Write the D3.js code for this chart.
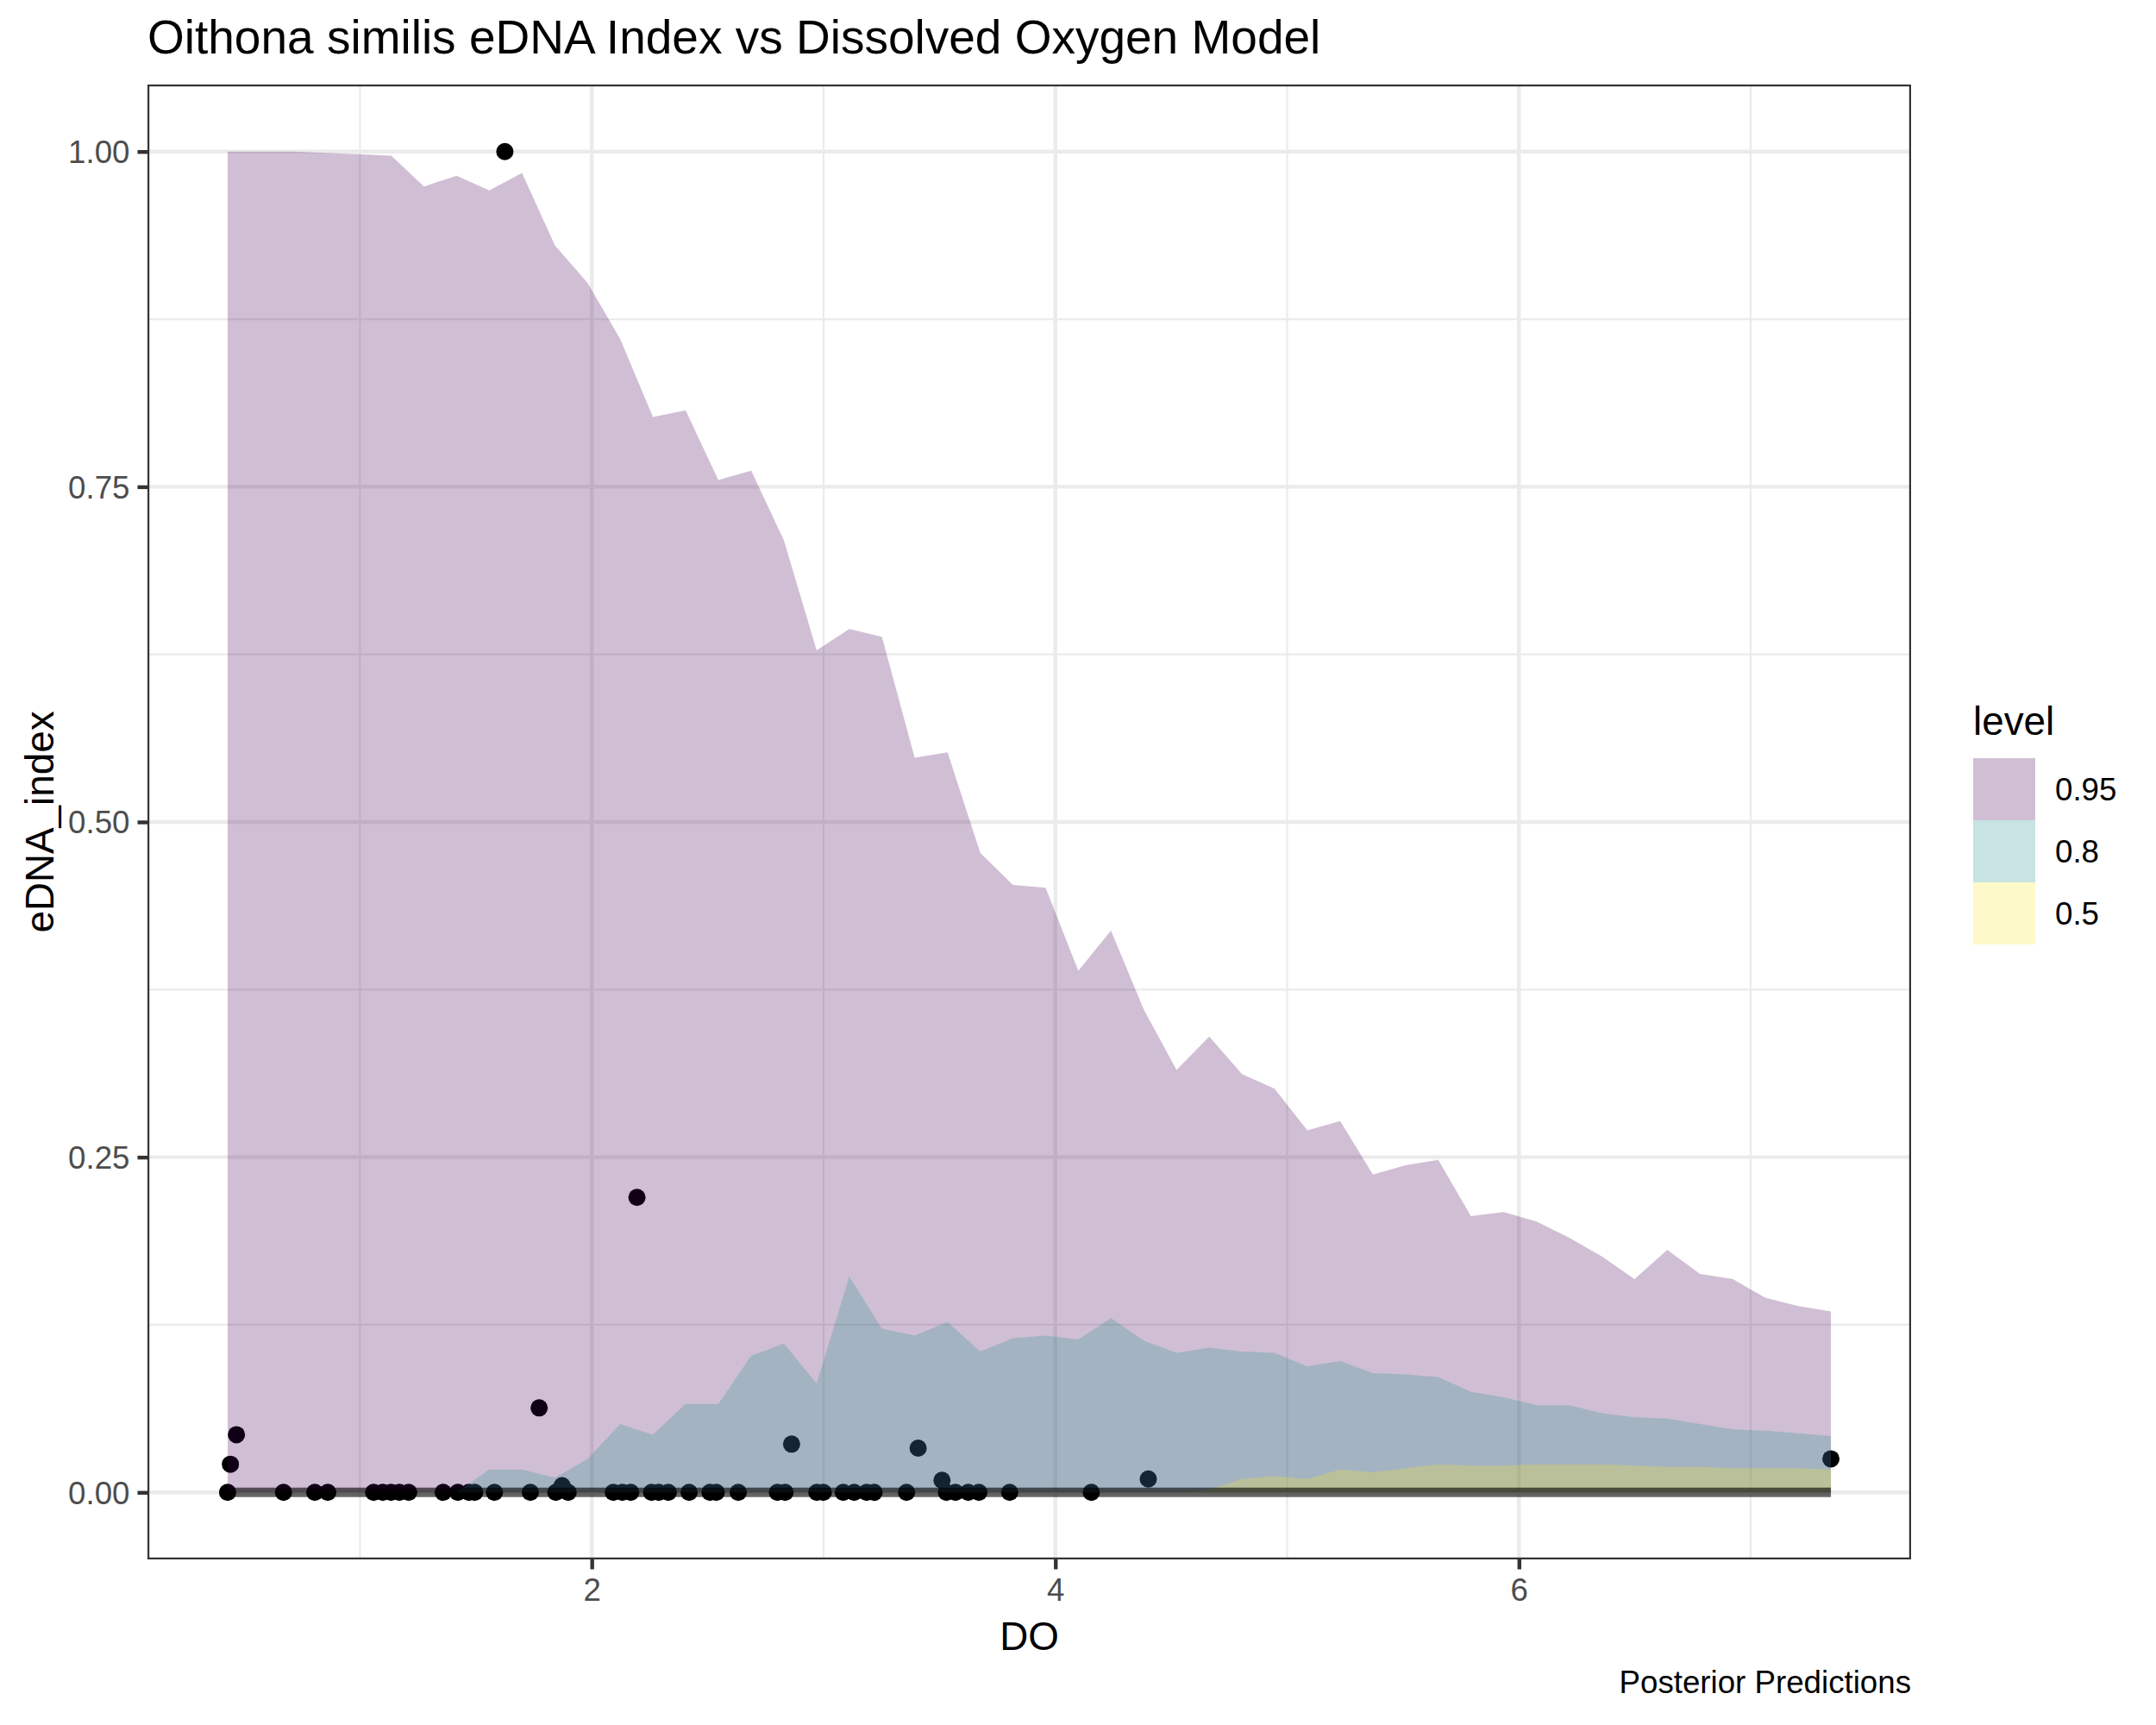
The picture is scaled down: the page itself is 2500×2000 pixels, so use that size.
<!DOCTYPE html>
<html>
<head>
<meta charset="utf-8">
<script src="https://cdn.jsdelivr.net/npm/d3@7"></script>
<style>
  html, body { margin: 0; padding: 0; background: #fff; }
  svg { display: block; }
  text { font-family: "Liberation Sans", Arial, Helvetica, sans-serif; }
</style>
</head>
<body>
<script>
// ---------- data ----------
const title = "Oithona similis eDNA Index vs Dissolved Oxygen Model";
const xTitle = "DO";
const yTitle = "eDNA_index";
const caption = "Posterior Predictions";
const legendTitle = "level";

// prediction grid (DO)
const gridDO = [0.429,0.570,0.711,0.852,0.994,1.135,1.276,1.417,1.558,1.699,
  1.841,1.982,2.123,2.264,2.405,2.546,2.688,2.829,2.970,3.111,
  3.252,3.393,3.535,3.676,3.817,3.958,4.099,4.240,4.382,4.523,
  4.664,4.805,4.946,5.087,5.229,5.370,5.511,5.652,5.793,5.934,
  6.076,6.217,6.358,6.499,6.640,6.781,6.923,7.064,7.205,7.346];

const upper95 = [1.000,1.000,1.000,0.999,0.998,0.997,0.974,0.982,0.971,0.984,
  0.930,0.902,0.860,0.802,0.807,0.755,0.762,0.710,0.628,0.644,
  0.638,0.548,0.552,0.477,0.453,0.451,0.389,0.419,0.360,0.315,
  0.340,0.312,0.301,0.270,0.277,0.237,0.244,0.248,0.206,0.209,
  0.202,0.190,0.176,0.159,0.181,0.163,0.159,0.145,0.139,0.135];

const upper80 = [0,0,0,0,0,0,0,0,0.017,0.017,
  0.011,0.025,0.051,0.043,0.066,0.066,0.102,0.111,0.081,0.161,
  0.122,0.117,0.127,0.105,0.115,0.117,0.114,0.130,0.113,0.104,
  0.108,0.105,0.104,0.094,0.098,0.089,0.088,0.086,0.075,0.071,
  0.065,0.065,0.059,0.056,0.055,0.051,0.047,0.046,0.044,0.042];

const upper50 = [0,0,0,0,0,0,0,0,0,0,
  0,0,0,0,0,0,0,0,0,0,
  0,0,0,0,0,0,0,0,0,0,
  0.002,0.010,0.012,0.010,0.017,0.015,0.018,0.021,0.020,0.020,
  0.021,0.021,0.021,0.020,0.019,0.019,0.018,0.018,0.018,0.017];

const lowerBound = [0,0,0,0,0,0,0,0,0,0,
  0,0,0,0,0,0,0,0,0,0,
  0,0,0,0,0,0,0,0,0,0,
  0,0,0,0,0,0,0,0,0,0,
  0,0,0,0,0,0,0,0,0,0];

const medianPred = [0,0,0,0,0,0,0,0,0,0,
  0,0,0,0,0,0,0,0,0,0,
  0,0,0,0,0,0,0,0,0,0,
  0,0,0,0,0,0,0,0,0,0,
  0,0,0,0,0,0,0,0,0,0];

// observations
const obsDO = [0.429,0.441,0.467,0.670,0.805,0.861,1.059,1.098,1.134,1.170,1.210,
  1.359,1.422,1.470,1.495,1.580,1.625,1.735,1.773,1.845,1.872,1.898,
  2.093,2.132,2.168,2.195,2.258,2.289,2.330,2.420,2.510,2.537,2.632,
  2.801,2.834,2.862,2.971,2.999,3.085,3.132,3.186,3.218,3.358,3.408,
  3.511,3.530,3.569,3.624,3.670,3.803,4.155,4.401,7.346];
const obsIndex = [0,0.021,0.043,0,0,0,0,0,0,0,0,
  0,0,0,0,0,1.000,0,0.063,0,0.005,0,
  0,0,0,0.220,0,0,0,0,0,0,0,
  0,0,0.036,0,0,0,0,0,0,0,0.033,
  0.009,0,0,0,0,0,0,0.010,0.025];

const levels = ["0.95","0.8","0.5"];
const levelColors = ["#440154","#21908C","#FDE725"];
const yTicks = [0,0.25,0.5,0.75,1];
const yTickLabels = ["0.00","0.25","0.50","0.75","1.00"];
const yMinor = [0.125,0.375,0.625,0.875];
const xTicks = [2,4,6];
const xTickLabels = ["2","4","6"];
const xMinor = [1,3,5,7];

// ---------- layout ----------
const W = 2500, H = 2000;
const P = {left: 171, right: 2216, top: 98, bottom: 1808};
const svg = d3.select("body").append("svg").attr("width", W).attr("height", H);

const xExt = d3.extent(obsDO);
const xPad = (xExt[1] - xExt[0]) * 0.05;
const x = d3.scaleLinear().domain([xExt[0] - xPad, xExt[1] + xPad]).range([P.left, P.right]);
const y = d3.scaleLinear().domain([-0.05, 1.05]).range([P.bottom, P.top]);

const fs = {title: 55, axisTitle: 45.8, axisText: 36.7};

// panel background
svg.append("rect").attr("x", P.left).attr("y", P.top)
  .attr("width", P.right - P.left).attr("height", P.bottom - P.top).attr("fill", "#fff");

const clip = svg.append("clipPath").attr("id", "pclip").append("rect")
  .attr("x", P.left).attr("y", P.top).attr("width", P.right - P.left).attr("height", P.bottom - P.top);

const panel = svg.append("g").attr("clip-path", "url(#pclip)");

// grid
panel.selectAll(".ymin").data(yMinor).enter().append("line")
  .attr("x1", P.left).attr("x2", P.right).attr("y1", d => y(d)).attr("y2", d => y(d))
  .attr("stroke", "#EBEBEB").attr("stroke-width", 2.2);
panel.selectAll(".xmin").data(xMinor).enter().append("line")
  .attr("y1", P.top).attr("y2", P.bottom).attr("x1", d => x(d)).attr("x2", d => x(d))
  .attr("stroke", "#EBEBEB").attr("stroke-width", 2.2);
panel.selectAll(".ymaj").data(yTicks).enter().append("line")
  .attr("x1", P.left).attr("x2", P.right).attr("y1", d => y(d)).attr("y2", d => y(d))
  .attr("stroke", "#EBEBEB").attr("stroke-width", 4.4);
panel.selectAll(".xmaj").data(xTicks).enter().append("line")
  .attr("y1", P.top).attr("y2", P.bottom).attr("x1", d => x(d)).attr("x2", d => x(d))
  .attr("stroke", "#EBEBEB").attr("stroke-width", 4.4);

// points (under ribbons)
const obs = obsDO.map((d, i) => ({x: d, y: obsIndex[i]}));
panel.selectAll(".pt").data(obs).enter().append("circle")
  .attr("cx", d => x(d.x)).attr("cy", d => y(d.y)).attr("r", 10).attr("fill", "#000");

// ribbons
const uppers = [upper95, upper80, upper50];
const area = d3.area().x(d => x(d.x)).y0(d => y(d.lo)).y1(d => y(d.hi));
uppers.forEach((up, k) => {
  const pts = gridDO.map((g, i) => ({x: g, lo: lowerBound[i], hi: up[i]}));
  panel.append("path").datum(pts).attr("d", area)
    .attr("fill", levelColors[k]).attr("fill-opacity", 0.25);
});

// median line
const line = d3.line().x(d => x(d.x)).y(d => y(d.y));
panel.append("path").datum(gridDO.map((g, i) => ({x: g, y: medianPred[i]})))
  .attr("d", line).attr("fill", "none").attr("stroke", "#000").attr("stroke-opacity", 0.6)
  .attr("stroke-width", 11);

// panel border
svg.append("rect").attr("x", P.left + 1.1).attr("y", P.top + 1.1)
  .attr("width", P.right - P.left - 2.2).attr("height", P.bottom - P.top - 2.2)
  .attr("fill", "none").attr("stroke", "#333333").attr("stroke-width", 2.2);

// axes
const yAxis = d3.axisLeft(y).tickValues(yTicks).tickFormat((d, i) => yTickLabels[i])
  .tickSize(11.5).tickPadding(9);
const gy = svg.append("g").attr("transform", `translate(${P.left},0)`).call(yAxis);
const xAxis = d3.axisBottom(x).tickValues(xTicks).tickFormat((d, i) => xTickLabels[i])
  .tickSize(11.5).tickPadding(9);
const gx = svg.append("g").attr("transform", `translate(0,${P.bottom})`).call(xAxis);
[gx, gy].forEach(g => {
  g.select(".domain").remove();
  g.selectAll(".tick line").attr("stroke", "#333333").attr("stroke-width", 4.4);
  g.selectAll(".tick text").attr("fill", "#4D4D4D")
    .style("font-size", fs.axisText + "px")
    .style("font-family", '"Liberation Sans", Arial, sans-serif');
});
gy.selectAll(".tick text").attr("dy", "0.35em");
gx.selectAll(".tick text").attr("dy", "0.74em");

// titles
svg.append("text").attr("x", P.left).attr("y", 62).text(title)
  .style("font-size", fs.title + "px").attr("fill", "#000");
svg.append("text").attr("x", (P.left + P.right) / 2).attr("y", 1913).attr("text-anchor", "middle")
  .text(xTitle).style("font-size", fs.axisTitle + "px").attr("fill", "#000");
svg.append("text").attr("transform", `translate(62,${(P.top + P.bottom) / 2}) rotate(-90)`)
  .attr("text-anchor", "middle").text(yTitle).style("font-size", fs.axisTitle + "px").attr("fill", "#000");
svg.append("text").attr("x", P.right).attr("y", 1963).attr("text-anchor", "end")
  .text(caption).style("font-size", fs.axisText + "px").attr("fill", "#000");

// legend
const L = {x: 2288, y: 879, key: 72};
svg.append("text").attr("x", L.x).attr("y", 852).text(legendTitle)
  .style("font-size", fs.axisTitle + "px").attr("fill", "#000");
levels.forEach((lv, i) => {
  svg.append("rect").attr("x", L.x).attr("y", L.y + i * L.key).attr("width", L.key).attr("height", L.key)
    .attr("fill", "#fff");
  svg.append("rect").attr("x", L.x).attr("y", L.y + i * L.key).attr("width", L.key).attr("height", L.key)
    .attr("fill", levelColors[i]).attr("fill-opacity", 0.25);
  svg.append("text").attr("x", L.x + L.key + 23).attr("y", L.y + i * L.key + L.key / 2)
    .attr("dy", "0.35em").text(lv).style("font-size", fs.axisText + "px").attr("fill", "#000");
});
</script>
</body>
</html>
